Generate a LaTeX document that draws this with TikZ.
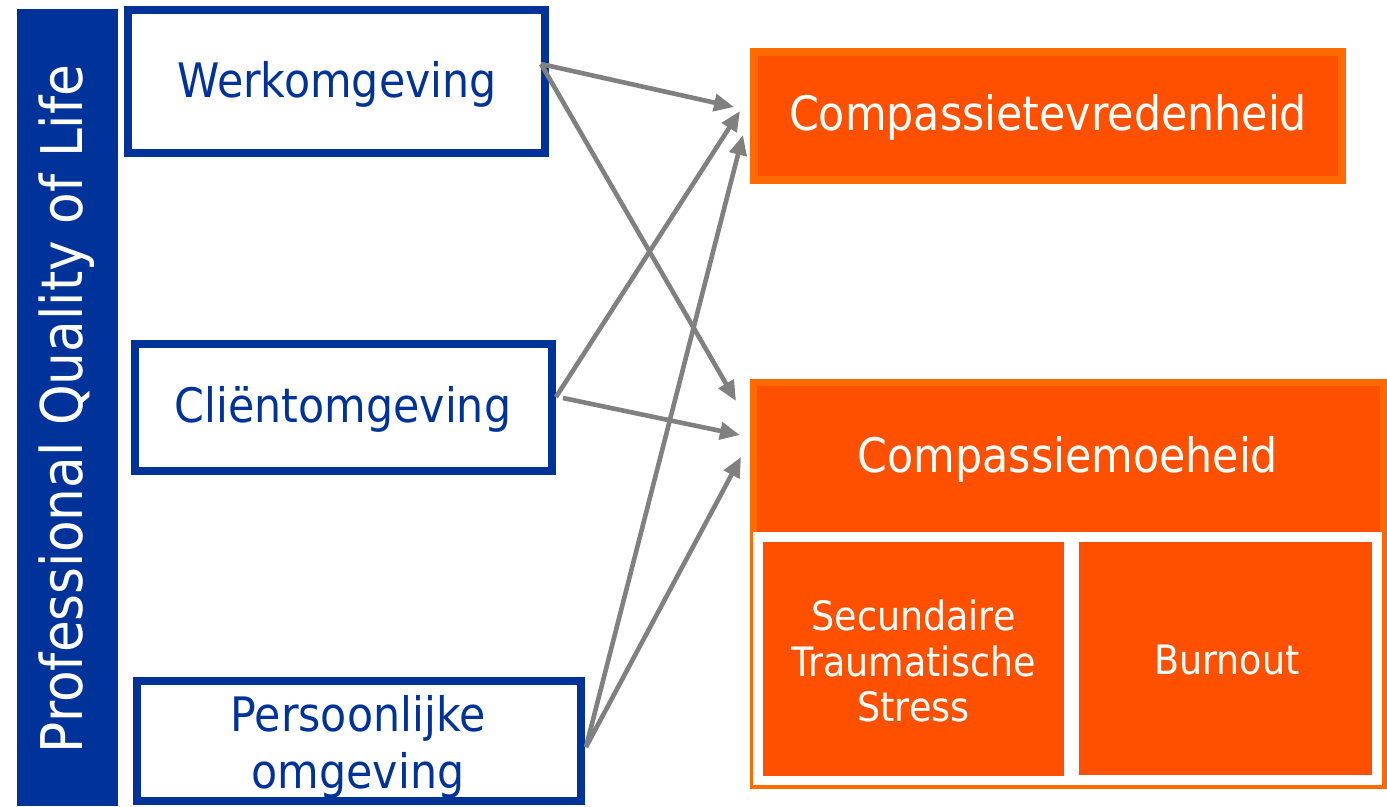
\documentclass[tikz,border=0pt]{standalone}
\usepackage{fontspec}
\setmainfont{DejaVu Sans}[FakeStretch=0.9]
\usetikzlibrary{arrows.meta}
\definecolor{qblue}{HTML}{003399}
\definecolor{qorange}{HTML}{FF5000}
\definecolor{qorangeline}{HTML}{FF6A00}
\definecolor{qgray}{HTML}{808080}
\begin{document}
\begin{tikzpicture}[x=1pt,y=-1pt,
  bluebox/.style={draw=qblue,line width=8pt,fill=white,inner sep=0pt},
  bluetext/.style={text=qblue,inner sep=0pt,align=center},
  orangebox/.style={draw=qorangeline,line width=8pt,fill=qorange,inner sep=0pt},
  whitetext/.style={text=white,inner sep=0pt,align=center},
  subbox/.style={fill=qorange,draw=none,inner sep=0pt},
  conn/.style={draw=qgray,line width=4.6pt,-{Triangle[length=20pt,width=17pt]}},
  bigtext/.style={font=\fontsize{47.5}{57}\selectfont},
  smalltext/.style={font=\fontsize{40.5}{45.5}\selectfont},
]
\useasboundingbox (0,0) rectangle (1387,806);
\fill[white] (0,0) rectangle (1387,806);
% left bar
\node[fill=qblue,draw=none,minimum width=101pt,minimum height=797pt,inner sep=0pt] (bar) at (67.5,407.5) {};
\node[rotate=90,whitetext,font=\fontsize{57.5}{60}\selectfont] (title) at (67,409) {Professional Quality of Life};
% blue boxes
\node[bluebox,minimum width=417pt,minimum height=143pt] (werk) at (336.5,81.5) {};
\node[bluetext,bigtext] (werktext) at (337,84) {Werkomgeving};
\node[bluebox,minimum width=417pt,minimum height=127pt] (client) at (343.5,407.5) {};
\node[bluetext,bigtext] (clienttext) at (343,409) {Cliëntomgeving};
\node[bluebox,minimum width=444pt,minimum height=120pt] (persoon) at (359,741) {};
\node[bluetext,bigtext] (persoontext) at (358,747) {Persoonlijke\\omgeving};
% orange boxes
\node[orangebox,minimum width=588pt,minimum height=128pt] (vred) at (1048,116) {};
\node[whitetext,bigtext] (vredtext) at (1048,117) {Compassietevredenheid};
\node[orangebox,line width=7pt,minimum width=630pt,minimum height=403pt] (moe) at (1068.5,584) {};
\node[whitetext,bigtext] (moetext) at (1068,459) {Compassiemoeheid};
\node[fill=white,draw=none,minimum width=629pt,minimum height=253pt,inner sep=0pt] (frame) at (1067.5,658.5) {};
\node[subbox,minimum width=301pt,minimum height=234pt] (sts) at (913.5,659) {};
\node[whitetext,smalltext] (ststext) at (913.5,661) {Secundaire\\Traumatische\\Stress};
\node[subbox,minimum width=293pt,minimum height=233pt] (burn) at (1225.5,658.5) {};
\node[whitetext,smalltext] (burntext) at (1227,660) {Burnout};
% connector end points
\coordinate (werkout) at (541,64);
\coordinate (clientoutA) at (556,397);
\coordinate (clientoutB) at (563,398);
\coordinate (persoonout) at (586,747);
\coordinate (vredinA) at (734,107);
\coordinate (vredinB) at (740,111);
\coordinate (vredinC) at (743,135);
\coordinate (moeinA) at (736,401);
\coordinate (moeinB) at (740,435);
\coordinate (moeinC) at (741,457);
% connectors
\draw[conn] (werkout) -- (vredinA);
\draw[conn] (werkout) -- (moeinA);
\draw[conn] (clientoutA) -- (vredinB);
\draw[conn] (clientoutB) -- (moeinB);
\draw[conn] (persoonout) -- (vredinC);
\draw[conn] (persoonout) -- (moeinC);
\end{tikzpicture}
\end{document}
